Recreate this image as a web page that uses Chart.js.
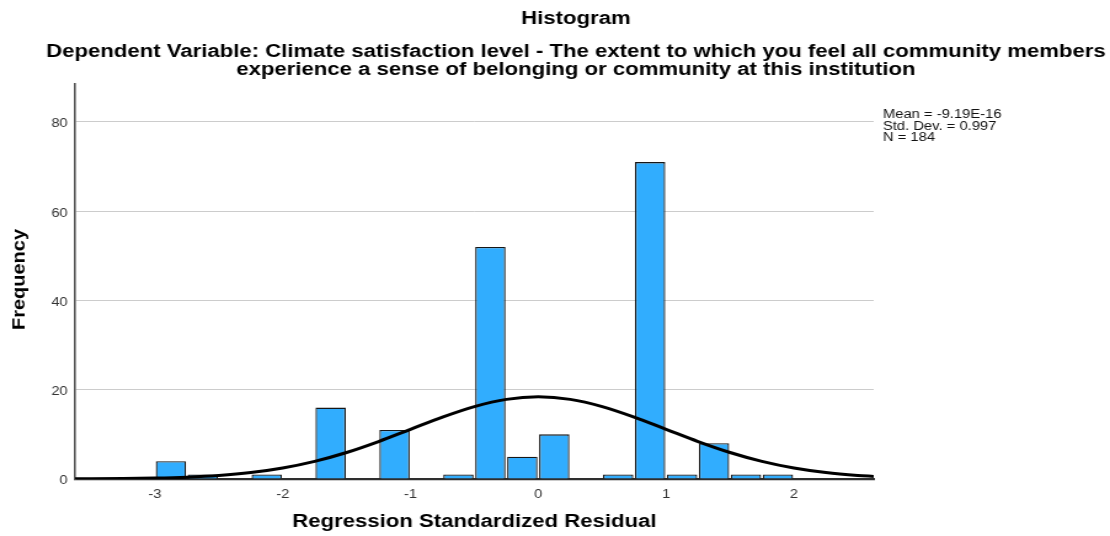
<!DOCTYPE html>
<html>
<head>
<meta charset="utf-8">
<script src="https://cdn.jsdelivr.net/npm/chart.js@4.4.1/dist/chart.umd.min.js"></script>
<style>
	html, body { margin: 0; padding: 0; background: #fff; }
</style>
</head>
<body>
<!-- the SPSS export is wider than it is drawn, so the canvas is stretched sideways -->
<canvas id="histogram" width="902" height="536" style="display:block;width:1110px;height:536px"></canvas>
<script>
// bins are 0.25 wide, values are the bin centres
const binCenters = [-2.875, -2.625, -2.125, -1.625, -1.125, -0.625, -0.375, -0.125, 0.125, 0.625, 0.875, 1.125, 1.375, 1.625, 1.875]
const frequencies = [4, 1, 1, 16, 11, 1, 52, 5, 10, 1, 71, 1, 8, 1, 1]

// normal curve heights (in frequency units)
const curveX = [-3.625, -3.5, -3.25, -3, -2.75, -2.5, -2.25, -2, -1.75, -1.5, -1.25, -1, -0.75, -0.5, -0.25, 0, 0.25, 0.5, 0.75, 1, 1.25, 1.5, 1.75, 2, 2.25, 2.5, 2.625]
const curveY = [0.03, 0.04, 0.09, 0.2, 0.41, 0.79, 1.44, 2.46, 3.95, 5.94, 8.39, 11.13, 13.87, 16.23, 17.84, 18.41, 17.84, 16.23, 13.87, 11.13, 8.39, 5.94, 3.95, 2.46, 1.44, 0.79, 0.58]

const xTicks = [-3, -2, -1, 0, 1, 2]
const yTicks = [0, 20, 40, 60, 80]

const titleText = 'Histogram'
const subtitleLines = ['Dependent Variable: Climate satisfaction level - The extent to which you feel all community members', 'experience a sense of belonging or community at this institution']
const xTitle = 'Regression Standardized Residual'
const yTitle = 'Frequency'
const statLines = ['Mean = -9.19E-16', 'Std. Dev. = 0.997', 'N = 184']

const FONT = '"Liberation Sans", Arial, sans-serif'
Chart.defaults.font.family = FONT

// titles, axis titles and the stats box
const spssText = {
	id: 'spssText',
	afterDraw(chart) {
		const c = chart.ctx
		const area = chart.chartArea
		c.save()
		c.fillStyle = '#000'
		c.textAlign = 'center'
		c.textBaseline = 'alphabetic'
		c.font = 'bold 18px ' + FONT
		c.fillText(titleText, 468, 24)
		c.fillText(subtitleLines[0], 468, 57)
		c.fillText(subtitleLines[1], 468, 75)
		c.fillText(xTitle, (area.left + area.right) / 2, 527)

		c.save()
		c.translate(16, (area.top + area.bottom) / 2 - 2)
		c.rotate(-Math.PI / 2)
		c.scale(1, 0.72)
		c.textBaseline = 'middle'
		c.font = 'bold 20px ' + FONT
		c.fillText(yTitle, 0, 0)
		c.restore()

		c.textAlign = 'left'
		c.font = '12px ' + FONT
		c.fillStyle = '#111'
		statLines.forEach((line, i) => {
			c.fillText(line, area.right + 7.5, 118 + i * 11.6)
		})
		c.restore()
	},
}

var ctx = document.getElementById('histogram').getContext('2d')
var histogram = new Chart(ctx, {
	type: 'bar',
	data: {
		datasets: [
			{
				type: 'line',
				data: curveX.map((x, i) => ({ x: x, y: curveY[i] })),
				borderColor: '#000',
				borderWidth: 3,
				pointRadius: 0,
				cubicInterpolationMode: 'monotone',
				fill: false,
				order: 0,
			},
			{
				type: 'bar',
				data: binCenters.map((x, i) => ({ x: x, y: frequencies[i] })),
				backgroundColor: '#31adfe',
				borderColor: '#161616',
				borderWidth: 1.3,
				barPercentage: 0.95,
				categoryPercentage: 1,
				order: 1,
			},
		],
	},
	plugins: [spssText],
	options: {
		responsive: false,
		animation: false,
		layout: {
			padding: { top: 84, right: 192, bottom: 0, left: 0 },
		},
		plugins: {
			legend: { display: false },
			tooltip: { enabled: false },
		},
		scales: {
			x: {
				type: 'linear',
				min: -3.625,
				max: 2.625,
				offset: false,
				afterBuildTicks: (scale) => {
					scale.ticks = xTicks.map((v) => ({ value: v }))
				},
				afterFit: (scale) => {
					scale.height = 57
				},
				grid: { display: false, offset: false, drawTicks: false },
				border: { display: true, color: '#2e2e2e', width: 2.2 },
				ticks: {
					color: '#333',
					padding: 8,
					font: { size: 12 },
				},
			},
			y: {
				min: 0,
				max: 88.5,
				afterBuildTicks: (scale) => {
					scale.ticks = yTicks.map((v) => ({ value: v }))
				},
				afterFit: (scale) => {
					scale.width = 61
				},
				grid: {
					drawTicks: false,
					color: (c) => (c.tick && c.tick.value === 0 ? 'rgba(0,0,0,0)' : '#cccccc'),
					lineWidth: 1,
				},
				border: { display: true, color: '#555', width: 1.6 },
				ticks: {
					color: '#333',
					padding: 6,
					labelOffset: 2,
					font: { size: 12 },
				},
			},
		},
	},
})
</script>
</body>
</html>
